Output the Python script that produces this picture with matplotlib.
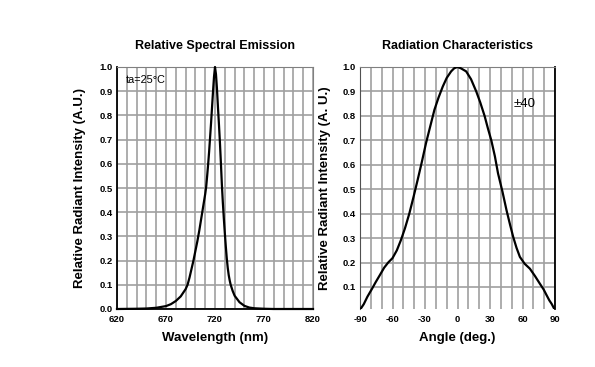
import matplotlib
matplotlib.use("Agg")
import matplotlib.pyplot as plt
import numpy as np

plt.rcParams['font.family'] = ['Liberation Sans', 'DejaVu Sans']

# Spectral emission data
wavelength = [620, 640, 650, 660, 670, 675, 680, 685, 690, 692, 694, 696, 698, 700, 702, 704,
              706, 708, 710, 711, 712, 713, 714, 715, 716, 717, 718, 719, 720, 721, 722, 723,
              724, 725, 726, 727, 728, 729, 730, 731, 732, 733, 734, 735, 736, 738, 740, 745,
              750, 755, 760, 770, 780, 820]
spectral = [0.0, 0.001, 0.002, 0.005, 0.012, 0.02, 0.033, 0.052, 0.082, 0.1, 0.13, 0.165, 0.2,
            0.24, 0.28, 0.325, 0.375, 0.425, 0.475, 0.505, 0.55, 0.598, 0.65, 0.71, 0.77, 0.835,
            0.9, 0.96, 1.0, 0.97, 0.91, 0.835, 0.765, 0.69, 0.605, 0.515, 0.44, 0.375, 0.315,
            0.26, 0.21, 0.17, 0.14, 0.118, 0.1, 0.075, 0.055, 0.028, 0.013, 0.006, 0.003, 0.001,
            0.0, 0.0]

# Radiation characteristics data
angle = [-89.5, -86.5, -83.2, -79, -75.5, -71.5, -67.7, -64, -60, -56, -52.3, -48.5, -44.5,
         -40.5, -36.8, -33, -29.1, -25, -21.3, -17.5, -13.6, -10, -5.9, -3, 0, 3, 8, 12.5,
         17.3, 21, 25, 28, 31.2, 34.5, 37.4, 41.5, 45.2, 48.5, 51.4, 54.5, 57.6, 62, 66.8,
         71.5, 76.1, 79.5, 82.3, 84.8, 86.9, 89.4]
intensity = [0.01, 0.03, 0.06, 0.092, 0.12, 0.15, 0.179, 0.2, 0.218, 0.25, 0.291, 0.34, 0.40,
             0.47, 0.538, 0.61, 0.688, 0.76, 0.825, 0.875, 0.92, 0.955, 0.982, 0.995, 1.0,
             0.995, 0.982, 0.95, 0.90, 0.855, 0.80, 0.75, 0.70, 0.635, 0.565, 0.49, 0.415,
             0.355, 0.305, 0.26, 0.223, 0.195, 0.175, 0.145, 0.113, 0.09, 0.066, 0.045, 0.031,
             0.01]

fig = plt.figure(figsize=(5.95, 3.67), dpi=100)
ax1 = fig.add_axes([117/595, 1-309/367, 196/595, 242/367])
ax2 = fig.add_axes([360/595, 1-309/367, 195/595, 242/367])

grid_c = '#a0a0a0'
tick_font = dict(fontsize=6.8, fontweight='bold')

# Left chart
ax1.plot(wavelength, spectral, color='black', lw=1.6, zorder=3, clip_on=False,
         solid_joinstyle='round')
ax1.set_xlim(620, 820)
ax1.set_ylim(0, 1.0)
ax1.set_xticks(np.arange(620, 821, 10))
ax1.set_xticklabels([str(v) if (v - 620) % 50 == 0 else '' for v in range(620, 821, 10)], **tick_font)
ax1.set_yticks(np.arange(0, 1.01, 0.1))
ax1.set_yticklabels([f'{v:.1f}' for v in np.arange(0, 1.01, 0.1)], **tick_font)
ax1.grid(True, color=grid_c, lw=1.2)
ax1.tick_params(axis='y', length=0, pad=3)
ax1.tick_params(axis='x', length=0, pad=4)
for s in ['top', 'right']:
    ax1.spines[s].set_color('#808080')
for s in ['left', 'bottom']:
    ax1.spines[s].set_color('black')
    ax1.spines[s].set_linewidth(1.3)
ax1.set_title('Relative Spectral Emission', fontsize=9, fontweight='bold', pad=13)
ax1.set_xlabel('Wavelength (nm)', fontsize=9.5, fontweight='bold', labelpad=6)
ax1.set_ylabel('Relative Radiant Intensity (A.U.)', fontsize=9.5, fontweight='bold', labelpad=10)
ax1.text(0.045, 0.945, 'ta=25°C', transform=ax1.transAxes, fontsize=7.8, va='center', ha='left')

# Right chart
ax2.plot(angle, intensity, color='black', lw=1.6, zorder=3, solid_joinstyle='round')
ax2.set_xlim(-90, 90)
ax2.set_ylim(0.01, 1.0)
ax2.set_xticks(np.arange(-90, 91, 10))
ax2.set_xticklabels([str(v) if v % 30 == 0 else '' for v in range(-90, 91, 10)], **tick_font)
ax2.set_yticks(np.arange(0.1, 1.01, 0.1))
ax2.set_yticklabels([f'{v:.1f}' for v in np.arange(0.1, 1.01, 0.1)], **tick_font)
ax2.grid(True, color=grid_c, lw=1.2)
ax2.tick_params(axis='y', length=0, pad=3)
ax2.tick_params(axis='x', length=0, pad=4)
ax2.spines['top'].set_color('#808080')
ax2.spines['bottom'].set_visible(False)
ax2.spines['left'].set_color('#505050')
ax2.spines['right'].set_color('black')
ax2.spines['right'].set_linewidth(1.3)
ax2.set_title('Radiation Characteristics', fontsize=9, fontweight='bold', pad=13)
ax2.set_xlabel('Angle (deg.)', fontsize=9.5, fontweight='bold', labelpad=6)
ax2.set_ylabel('Relative Radiant Intensity (A. U.)', fontsize=9.5, fontweight='bold', labelpad=8)
ax2.text(0.79, 0.848, '±40', transform=ax2.transAxes, fontsize=9.5, va='center', ha='left')

fig.savefig('out.png', dpi=100)
